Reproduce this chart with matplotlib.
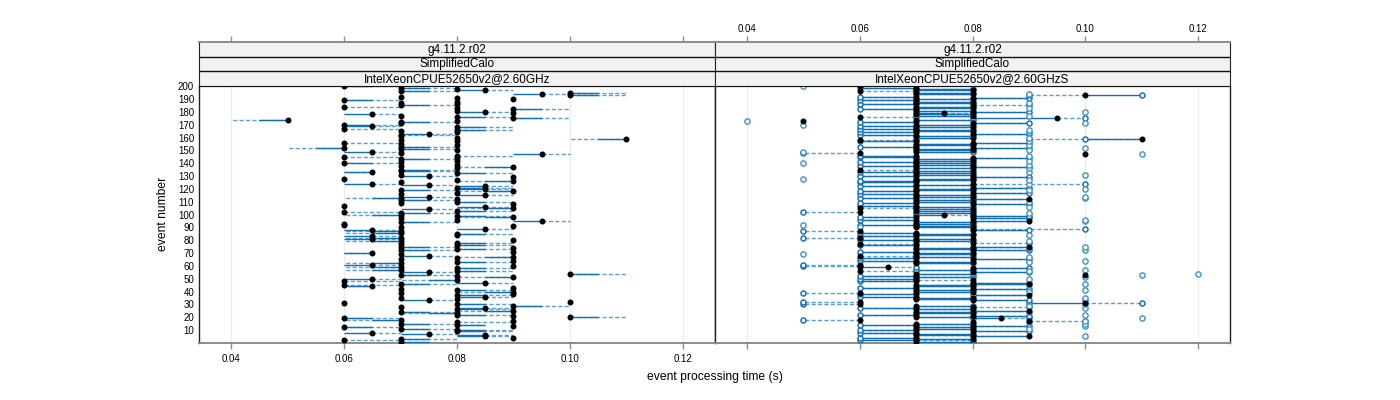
import matplotlib
matplotlib.use('Agg')
import matplotlib.pyplot as plt
import numpy as np
from matplotlib.collections import LineCollection
from matplotlib.patches import Rectangle

plt.rcParams['font.family'] = ['Liberation Sans', 'DejaVu Sans']

# ---------------- data (times in ms, events 1..200) ----------------
# left panel: dot time, solid-segment end, dashed-segment end
left_dot = [70, 60, 70, 90, 85, 85, 75, 65, 80, 80,
            70, 60, 90, 80, 70, 80, 90, 70, 60, 100,
            90, 80, 80, 70, 90, 80, 85, 70, 90, 80,
            60, 100, 75, 80, 70, 85, 80, 90, 70, 90,
            80, 70, 90, 65, 60, 70, 85, 60, 80, 65,
            90, 80, 70, 100, 75, 80, 70, 80, 70, 90,
            65, 70, 80, 90, 70, 80, 90, 75, 70, 65,
            90, 70, 80, 90, 70, 80, 70, 80, 70, 90,
            65, 70, 65, 80, 80, 70, 70, 65, 85, 70,
            90, 60, 60, 70, 95, 80, 70, 90, 80, 70,
            70, 60, 80, 75, 90, 85, 60, 90, 70, 80,
            70, 80, 70, 75, 85, 70, 80, 90, 70, 85,
            80, 85, 75, 65, 70, 90, 80, 60, 90, 75,
            70, 80, 65, 70, 70, 80, 90, 70, 80, 60,
            70, 80, 70, 80, 60, 80, 95, 70, 65, 80,
            70, 60, 70, 80, 70, 60, 80, 70, 110, 80,
            70, 70, 75, 80, 70, 80, 60, 80, 65, 60,
            70, 70, 80, 50, 90, 80, 70, 65, 90, 85,
            80, 90, 80, 60, 70, 80, 70, 80, 60, 90,
            80, 70, 100, 95, 100, 70, 85, 80, 70, 60]
left_solid = [75, 60, 75, 90, 80, 80, 70, 60, 85, 85,
              75, 65, 90, 85, 75, 80, 90, 65, 65, 105,
              90, 85, 75, 75, 85, 85, 80, 70, 95, 85,
              60, 100, 70, 80, 70, 80, 85, 90, 70, 85,
              85, 70, 90, 60, 60, 75, 80, 60, 75, 60,
              85, 80, 75, 105, 70, 85, 65, 85, 65, 90,
              60, 65, 85, 90, 70, 80, 85, 70, 70, 60,
              90, 75, 85, 90, 75, 85, 70, 85, 65, 90,
              60, 65, 60, 80, 85, 65, 65, 60, 80, 70,
              90, 60, 60, 75, 90, 80, 70, 85, 85, 65,
              75, 60, 85, 70, 85, 80, 60, 90, 70, 85,
              75, 80, 65, 70, 80, 70, 80, 85, 75, 80,
              85, 80, 70, 60, 70, 85, 80, 60, 90, 70,
              70, 85, 60, 75, 75, 80, 85, 70, 80, 65,
              70, 80, 75, 80, 60, 80, 90, 70, 60, 80,
              75, 55, 75, 80, 70, 60, 80, 70, 105, 80,
              70, 70, 70, 80, 70, 85, 60, 85, 60, 65,
              70, 75, 80, 45, 95, 85, 70, 60, 90, 80,
              80, 95, 80, 60, 75, 80, 70, 80, 65, 90,
              80, 70, 105, 90, 105, 75, 80, 80, 75, 65]
left_dash = [80, 70, 80, 90, 90, 90, 80, 70, 90, 90,
             80, 70, 90, 85, 80, 90, 90, 60, 70, 110,
             90, 90, 70, 80, 80, 90, 90, 70, 100, 90,
             60, 100, 80, 80, 70, 90, 90, 90, 70, 80,
             90, 70, 90, 60, 70, 80, 90, 70, 70, 70,
             80, 80, 80, 110, 80, 90, 60, 90, 60, 90,
             70, 60, 90, 90, 70, 80, 80, 80, 70, 60,
             90, 80, 90, 90, 80, 90, 70, 90, 60, 90,
             70, 60, 70, 80, 90, 60, 60, 70, 90, 70,
             90, 60, 60, 80, 100, 80, 70, 80, 90, 60,
             80, 70, 90, 80, 80, 90, 60, 90, 70, 90,
             80, 80, 60, 80, 90, 70, 80, 80, 80, 90,
             90, 90, 80, 70, 70, 80, 80, 60, 90, 80,
             70, 90, 60, 80, 80, 80, 80, 70, 80, 70,
             70, 80, 80, 80, 70, 90, 100, 70, 70, 80,
             80, 50, 80, 80, 70, 70, 80, 70, 100, 80,
             70, 80, 80, 80, 70, 90, 70, 90, 70, 70,
             70, 80, 80, 40, 100, 90, 70, 70, 90, 90,
             80, 100, 80, 70, 80, 80, 70, 80, 70, 90,
             80, 70, 110, 100, 110, 80, 90, 80, 80, 70]

# right panel: dot time, solid end, dashed end, extra open circle (0 = none)
right_dot = [70, 70, 80, 70, 90, 80, 70, 70, 80, 70,
             80, 70, 80, 70, 70, 80, 90, 60, 85, 70,
             80, 70, 80, 70, 90, 80, 70, 80, 70, 60,
             100, 60, 80, 70, 80, 70, 90, 70, 60, 80,
             70, 80, 70, 80, 70, 90, 80, 70, 80, 70,
             70, 70, 100, 70, 80, 60, 80, 80, 65, 60,
             60, 70, 80, 70, 80, 70, 70, 60, 80, 70,
             70, 80, 70, 80, 90, 70, 60, 80, 70, 70,
             80, 60, 70, 80, 70, 70, 60, 80, 80, 70,
             80, 70, 70, 80, 90, 70, 80, 70, 80, 75,
             80, 60, 70, 80, 60, 70, 70, 80, 70, 80,
             70, 90, 70, 80, 70, 70, 80, 70, 80, 70,
             80, 70, 70, 80, 70, 70, 80, 70, 80, 70,
             80, 70, 70, 80, 60, 70, 80, 70, 80, 70,
             70, 80, 70, 80, 70, 70, 100, 60, 70, 80,
             70, 80, 70, 80, 70, 80, 70, 60, 110, 80,
             70, 70, 80, 70, 80, 70, 70, 80, 70, 70,
             80, 70, 50, 70, 95, 60, 80, 70, 75, 80,
             70, 70, 80, 70, 80, 70, 70, 80, 70, 70,
             80, 70, 100, 80, 70, 60, 80, 70, 70, 60]
right_solid = [80, 60, 70, 60, 80, 70, 80, 60, 90, 60,
               70, 80, 90, 60, 80, 80, 90, 60, 80, 80,
               90, 60, 70, 80, 80, 70, 60, 80, 80, 60,
               90, 60, 90, 80, 70, 60, 80, 60, 60, 70,
               80, 90, 60, 70, 80, 80, 90, 60, 80, 60,
               80, 60, 100, 80, 90, 60, 70, 90, 60, 60,
               60, 80, 70, 60, 90, 60, 80, 60, 70, 80,
               60, 90, 80, 70, 80, 60, 60, 80, 80, 60,
               70, 60, 60, 70, 80, 60, 60, 90, 80, 80,
               70, 60, 80, 70, 80, 60, 90, 60, 90, 70,
               70, 60, 80, 70, 60, 80, 60, 90, 60, 70,
               80, 80, 60, 70, 80, 60, 90, 60, 70, 80,
               90, 60, 80, 80, 60, 60, 70, 80, 90, 60,
               70, 80, 60, 70, 60, 80, 90, 60, 70, 80,
               60, 70, 80, 90, 60, 60, 100, 60, 80, 70,
               80, 90, 60, 70, 80, 90, 60, 60, 100, 70,
               80, 60, 90, 60, 70, 80, 60, 70, 60, 80,
               90, 60, 50, 80, 80, 60, 70, 80, 70, 90,
               80, 60, 70, 80, 80, 60, 80, 70, 60, 80,
               90, 60, 110, 70, 80, 60, 70, 80, 60, 60]
right_dash = [80, 80, 70, 60, 80, 70, 80, 60, 90, 60,
              70, 80, 90, 60, 80, 80, 100, 50, 90, 80,
              90, 60, 70, 80, 80, 70, 60, 90, 80, 50,
              110, 50, 90, 80, 70, 60, 80, 60, 50, 70,
              80, 90, 60, 70, 80, 80, 90, 60, 70, 60,
              80, 60, 100, 80, 90, 70, 70, 90, 70, 50,
              50, 80, 70, 60, 90, 60, 80, 70, 70, 80,
              60, 90, 80, 70, 80, 60, 70, 90, 80, 60,
              70, 50, 60, 70, 80, 60, 50, 90, 100, 80,
              70, 60, 80, 70, 80, 60, 90, 60, 90, 80,
              70, 50, 80, 70, 70, 80, 60, 90, 60, 70,
              80, 80, 60, 70, 80, 60, 90, 60, 70, 80,
              90, 60, 80, 100, 60, 60, 70, 80, 90, 60,
              70, 80, 60, 70, 70, 80, 90, 60, 70, 80,
              60, 70, 80, 90, 60, 60, 100, 50, 80, 70,
              80, 90, 60, 70, 80, 90, 60, 70, 90, 70,
              80, 60, 90, 60, 70, 80, 60, 70, 60, 80,
              90, 60, 50, 80, 100, 70, 70, 80, 80, 90,
              80, 60, 70, 80, 90, 60, 80, 70, 60, 80,
              90, 60, 90, 70, 80, 70, 70, 80, 60, 60]
right_circle = [0, 0, 0, 0, 100, 0, 0, 0, 0, 0,
                90, 0, 100, 0, 100, 90, 100, 0, 110, 0,
                0, 100, 0, 90, 0, 0, 100, 0, 90, 100,
                0, 0, 100, 0, 100, 0, 0, 0, 0, 90,
                100, 0, 0, 0, 90, 100, 0, 0, 0, 90,
                100, 0, 110, 120, 0, 90, 100, 0, 0, 0,
                0, 0, 90, 100, 0, 0, 90, 0, 50, 0,
                0, 100, 0, 90, 100, 0, 0, 0, 90, 0,
                0, 0, 0, 90, 0, 0, 0, 0, 0, 60,
                0, 50, 0, 0, 100, 100, 0, 0, 0, 0,
                90, 0, 0, 0, 0, 90, 0, 0, 0, 90,
                0, 0, 100, 100, 0, 0, 0, 0, 90, 100,
                0, 0, 0, 90, 0, 0, 90, 50, 0, 0,
                100, 0, 90, 0, 0, 90, 0, 0, 90, 50,
                0, 90, 0, 0, 0, 90, 110, 0, 50, 90,
                0, 100, 0, 90, 0, 0, 90, 0, 0, 90,
                0, 0, 0, 90, 0, 90, 0, 0, 0, 50,
                100, 0, 40, 0, 0, 0, 90, 0, 0, 100,
                0, 0, 90, 0, 0, 0, 90, 0, 0, 0,
                0, 0, 0, 90, 0, 0, 0, 0, 0, 50]

strip_levels = ['g4.11.2.r02', 'SimplifiedCalo']
panel_cpus = ['IntelXeonCPUE52650v2@2.60GHz', 'IntelXeonCPUE52650v2@2.60GHzS']
xticks = [0.04, 0.06, 0.08, 0.10, 0.12]
yticks = list(range(10, 201, 10))

# ---------------- drawing ----------------
W, H = 1400, 400
fig = plt.figure(figsize=(14, 4), dpi=100)

SOLID = '#1170b5'
DASH = '#5aa0d4'
CIRC = '#1a73b8'
GRAY = '#8c8c8c'
XLIM = (0.0343, 0.1257)
YLIM = (0.1, 200.2)

def fx(px):
    return px / W

def fy(py):
    return 1 - py / H

panels = [(199, 715), (715, 1230)]
top_y, bot_y = 86, 342.7
strip_top = 42

events = np.arange(1, 201)

def draw_panel(ax, dots, solid, dash, circles=None):
    for xv in xticks:
        ax.axvline(xv, color='#ebebeb', lw=0.9, zorder=0)
    d = np.array(dots) / 1000.0
    s = np.array(solid) / 1000.0
    h = np.array(dash) / 1000.0
    dsegs = [[(d[i], e), (h[i], e)] for i, e in enumerate(events) if h[i] != d[i]]
    ssegs = [[(d[i], e), (s[i], e)] for i, e in enumerate(events) if s[i] != d[i]]
    ax.add_collection(LineCollection(dsegs, colors=DASH, linewidths=1.0,
                                     linestyles=(0, (3.0, 1.6)), zorder=2))
    ax.add_collection(LineCollection(ssegs, colors=SOLID, linewidths=1.0, zorder=3))
    if circles is not None:
        cx, cy = [], []
        for i, e in enumerate(events):
            if s[i] != d[i]:
                cx.append(s[i]); cy.append(e)
            if h[i] != d[i] and h[i] != s[i]:
                cx.append(h[i]); cy.append(e)
        ax.plot(cx, cy, 'o', mfc='white', mec=CIRC, mew=1.1, ms=3.6,
                ls='none', zorder=4)
        ex = [circles[i] / 1000.0 for i in range(len(events)) if circles[i]]
        ey = [events[i] for i in range(len(events)) if circles[i]]
        ax.plot(ex, ey, 'o', mfc='white', mec='#3f93cf', mew=1.0, ms=3.8,
                ls='none', zorder=4)
    ax.plot(d, events, 'o', color='black', ms=3.3, ls='none', zorder=5)
    ax.set_xlim(*XLIM)
    ax.set_ylim(*YLIM)


axes = []
for k, (x0, x1) in enumerate(panels):
    ax = fig.add_axes([fx(x0), fy(bot_y), fx(x1 - x0), (bot_y - top_y) / H])
    axes.append(ax)
    if k == 0:
        draw_panel(ax, left_dot, left_solid, left_dash)
    else:
        draw_panel(ax, right_dot, right_solid, right_dash, right_circle)
    for side in ['left', 'right']:
        ax.spines[side].set_color('#222222')
        ax.spines[side].set_linewidth(1.0)
    ax.spines['top'].set_color('#222222')
    ax.spines['bottom'].set_color(GRAY)
    ax.spines['bottom'].set_linewidth(1.4)
    ax.set_xticks(xticks)
    ax.set_xticklabels(['%.2f' % v for v in xticks])
    ax.tick_params(axis='x', direction='out', length=4.5, width=1.0, color=GRAY,
                   labelsize=7, pad=3.5, labelbottom=(k == 0))
    ax.set_yticks(yticks)
    ax.set_yticklabels([str(v) for v in yticks])
    ax.tick_params(axis='y', length=0, pad=3.5, labelsize=7,
                   labelleft=(k == 0), left=False, right=False)

    # strips
    sax = fig.add_axes([fx(x0), fy(top_y), fx(x1 - x0), (top_y - strip_top) / H])
    sax.set_xlim(*XLIM)
    sax.set_ylim(0, 3)
    labels = strip_levels + [panel_cpus[k]]
    for j, lab in enumerate(labels):
        yb = 2 - j
        sax.add_patch(Rectangle((XLIM[0], yb), XLIM[1] - XLIM[0], 1,
                                facecolor='#f2f2f2', edgecolor='none', zorder=0))
        sax.text(np.mean(XLIM), yb + 0.47, lab, ha='center', va='center',
                 fontsize=8.5, color='black')
    for yy in [1, 2]:
        sax.axhline(yy, color='#111111', lw=1.0)
    sax.spines['top'].set_color(GRAY)
    sax.spines['top'].set_linewidth(1.4)
    sax.spines['bottom'].set_color('#111111')
    sax.spines['left'].set_color('#222222')
    sax.spines['right'].set_color('#222222')
    sax.set_yticks([])
    sax.set_xticks(xticks)
    sax.set_xticklabels(['%.2f' % v for v in xticks])
    sax.tick_params(axis='x', direction='out', length=4.5, width=1.0, color=GRAY,
                    labelsize=7, pad=1.5, top=True, bottom=False,
                    labeltop=(k == 1), labelbottom=False)

fig.text(fx(163), fy(214), 'event number', rotation=90, ha='center', va='center',
         fontsize=8.7)
fig.text(fx(715), fy(377), 'event processing time (s)', ha='center', va='center',
         fontsize=8.7)

fig.savefig('out.png', dpi=100)
